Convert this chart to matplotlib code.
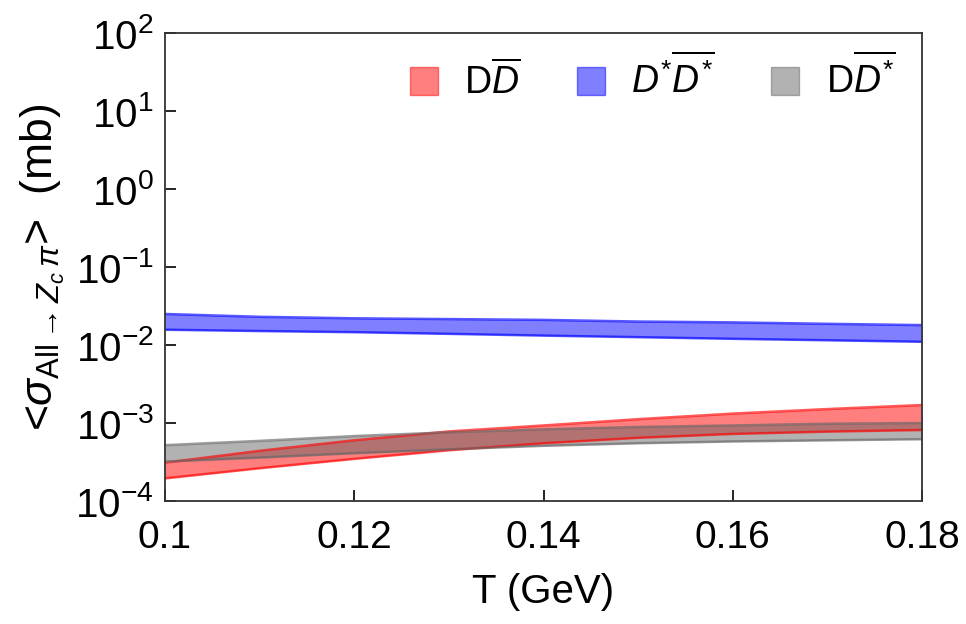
import matplotlib
matplotlib.use("Agg")
import matplotlib.pyplot as plt
from matplotlib.patches import Patch
from matplotlib.ticker import FixedLocator, LogFormatterMathtext

plt.rcParams['font.family'] = ['Liberation Sans', 'DejaVu Sans']
plt.rcParams['mathtext.fontset'] = 'custom'
plt.rcParams['mathtext.rm'] = 'Liberation Sans'
plt.rcParams['mathtext.it'] = 'Liberation Sans:italic'
plt.rcParams['mathtext.bf'] = 'Liberation Sans:bold'

# temperature grid (GeV)
T = [0.10, 0.11, 0.12, 0.13, 0.14, 0.15, 0.16, 0.17, 0.18]

# thermally averaged cross sections (mb), lower / upper edge of each band
dd_lo = [1.95e-4, 2.63e-4, 3.47e-4, 4.47e-4, 5.5e-4, 6.46e-4, 7.24e-4, 7.76e-4, 8.13e-4]
dd_hi = [3.1e-4, 4.4e-4, 6.0e-4, 7.8e-4, 9.3e-4, 1.12e-3, 1.32e-3, 1.51e-3, 1.70e-3]
dsds_lo = [0.0157, 0.0151, 0.0146, 0.0139, 0.0132, 0.0126, 0.0120, 0.0115, 0.0110]
dsds_hi = [0.0250, 0.0230, 0.0220, 0.0215, 0.0210, 0.0200, 0.0195, 0.0187, 0.0180]
dds_lo = [3.2e-4, 3.6e-4, 4.1e-4, 4.6e-4, 5.1e-4, 5.5e-4, 5.8e-4, 6.0e-4, 6.2e-4]
dds_hi = [5.2e-4, 5.9e-4, 6.8e-4, 7.6e-4, 8.3e-4, 8.9e-4, 9.3e-4, 9.8e-4, 1.0e-3]

yticks = [1e-4, 1e-3, 1e-2, 1e-1, 1e0, 1e1, 1e2]
xticks = [0.1, 0.12, 0.14, 0.16, 0.18]
xticklabels = ['0.1', '0.12', '0.14', '0.16', '0.18']

labels = [r'D$\overline{D}$', r'$D^{*}\overline{D^{*}}$', r'D$\overline{D^{*}}$']
colors = ['#ff0000', '#0000ff', '#666666']

fig = plt.figure(figsize=(9.66, 6.24), dpi=100)
ax = fig.add_axes([0.1708, 0.1971, 0.7837, 0.75])

bands = [(dd_lo, dd_hi), (dsds_lo, dsds_hi), (dds_lo, dds_hi)]
for (lo, hi), c in zip(bands, colors):
    ax.fill_between(T, lo, hi, color=c, alpha=0.5, lw=0)
    ax.plot(T, lo, color=c, lw=1.8, alpha=0.65)
    ax.plot(T, hi, color=c, lw=1.8, alpha=0.65)

ax.set_yscale('log')
ax.set_xlim(0.1, 0.18)
ax.set_ylim(1e-4, 1e2)
ax.yaxis.set_major_locator(FixedLocator(yticks))
ax.yaxis.set_major_formatter(LogFormatterMathtext())
ax.set_xticks(xticks)
ax.set_xticklabels(xticklabels)
ax.minorticks_off()
ax.tick_params(axis='x', direction='in', length=8, width=1.2, labelsize=28, pad=14,
               top=False)
ax.tick_params(axis='y', direction='in', length=8, width=1.2, labelsize=29, pad=8,
               right=False)
for s in ax.spines.values():
    s.set_linewidth(1.3)
    s.set_color('#333333')

ax.set_xlabel('T (GeV)', fontsize=29, labelpad=12)
ax.set_ylabel(r'<$\sigma_{\mathrm{All}\rightarrow Z_c\,\pi}$>  (mb)', fontsize=32,
              labelpad=6)

handles = [Patch(facecolor=c, alpha=0.5, edgecolor=c) for c in colors]
ax.legend(handles, labels, loc='upper right', ncol=3, frameon=False, fontsize=27,
          handlelength=0.75, handleheight=0.75, handletextpad=0.7, columnspacing=1.5,
          borderaxespad=0, bbox_to_anchor=(0.985, 0.985))

fig.savefig('out.png', dpi=100)
